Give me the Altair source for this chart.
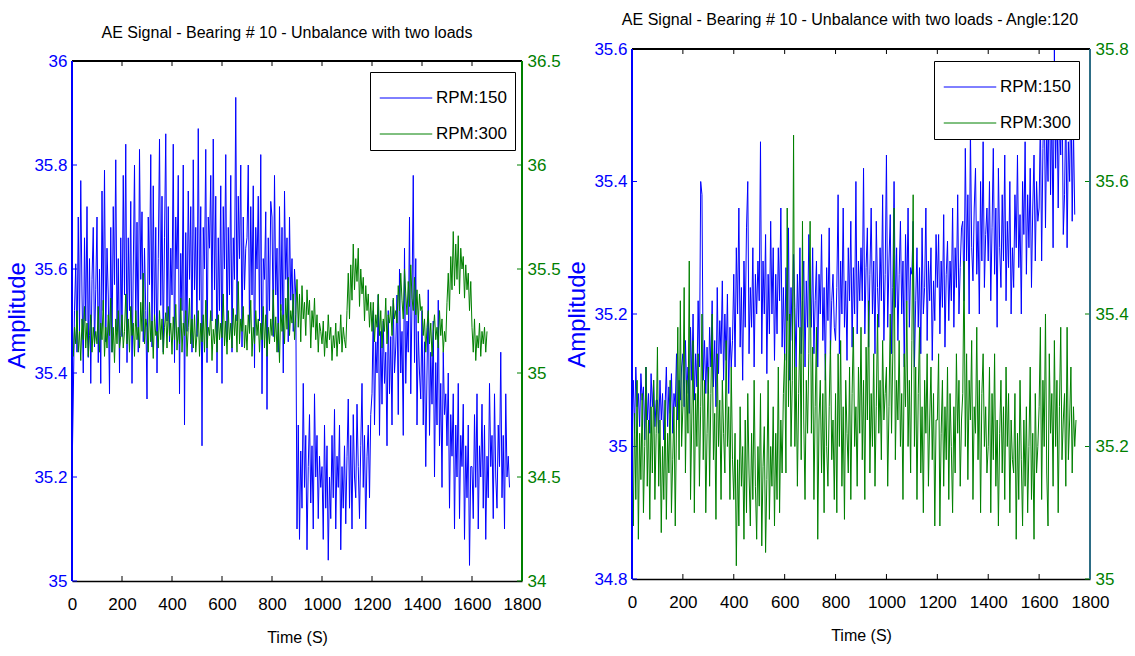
import altair as alt
import pandas as pd

BLUE = "#0000FF"
GREEN = "#008000"
FONT = "Liberation Sans, Arial"

SERIES = ["RPM:150", "RPM:300"]
X_TICKS = [0, 200, 400, 600, 800, 1000, 1200, 1400, 1600, 1800]
STEP = 5  # seconds between samples

# values are hundredths above 35.0 (one every 5 s)
LEFT_150 = [
    20, 35, 52, 61, 44, 70, 48, 77, 55, 40, 66, 50, 72, 43, 62, 38, 58, 68, 45, 56,
    70, 42, 60, 38, 75, 52, 79, 46, 64, 55, 36, 68, 44, 72, 57, 81, 48, 62, 40, 66,
    47, 78, 55, 84, 42, 66, 52, 73, 38, 60, 80, 49, 69, 44, 83, 58, 71, 46, 64, 52,
    35, 70, 57, 82, 45, 76, 50, 68, 40, 62, 85, 53, 74, 44, 66, 86, 50, 72, 46, 64,
    55, 84, 42, 70, 60, 78, 36, 63, 52, 80, 30, 67, 48, 75, 58, 72, 44, 81, 56, 68,
    47, 87, 54, 72, 26, 68, 60, 83, 42, 70, 64, 78, 50, 85, 56, 74, 40, 66, 52, 76,
    38, 72, 60, 82, 46, 68, 55, 78, 44, 66, 58, 93, 50, 74, 62, 80, 45, 70, 56, 64,
    66, 80, 48, 72, 55, 76, 41, 68, 60, 74, 50, 82, 36, 62, 58, 71, 33, 66, 52, 73,
    70, 47, 78, 55, 64, 44, 72, 52, 68, 40, 75, 58, 66, 46, 70, 54, 62, 48, 60, 55,
    10, 30, 8, 25, 14, 38, 18, 28, 6, 22, 32, 15, 26, 10, 36, 20, 28, 12, 24, 18,
    22, 8, 30, 14, 26, 4, 20, 12, 28, 16, 33, 10, 24, 18, 30, 6, 22, 14, 26, 11,
    24, 35, 14, 28, 10, 32, 20, 16, 34, 22, 12, 26, 38, 18, 28, 10, 24, 30, 16, 32,
    36, 52, 30, 46, 40, 55, 28, 48, 34, 50, 38, 44, 26, 52, 36, 47, 30, 54, 40, 45,
    55, 32, 60, 40, 48, 28, 64, 38, 50, 44, 70, 36, 54, 78, 42, 62, 30, 48, 40, 35,
    52, 30, 46, 22, 40, 56, 28, 44, 34, 50, 20, 42, 30, 54, 26, 38, 18, 44, 32, 36,
    26, 40, 14, 32, 24, 36, 10, 30, 20, 38, 12, 28, 22, 34, 8, 26, 16, 30, 3, 22,
    22, 12, 32, 18, 36, 10, 26, 20, 34, 14, 30, 8, 24, 16, 38, 22, 28, 12, 36, 20,
    14, 30, 22, 44, 16, 28, 10, 36, 20, 24, 18,
]
LEFT_300 = [
    28, 8, 22, 14, 30, 10, 20, 6, 26, 16, 32, 12, 24, 8, 18, 28, 10, 22, 14, 20,
    14, 32, 10, 24, 16, 35, 8, 22, 12, 28, 18, 36, 10, 22, 5, 26, 14, 30, 12, 18,
    28, 12, 20, 38, 14, 26, 10, 32, 18, 24, 8, 30, 16, 22, 12, 34, 20, 48, 14, 26,
    22, 10, 34, 15, 25, 7, 28, 18, 20, 12, 30, 16, 26, 9, 22, 29, 12, 32, 18, 24,
    9, 27, 16, 33, 11, 22, 14, 36, 10, 24, 18, 30, 8, 22, 36, 14, 26, 12, 28, 10,
    19, 30, 8, 24, 15, 28, 10, 35, 12, 22, 18, 30, 6, 21, 14, 26, 10, 28, 16, 24,
    17, 38, 13, 25, 9, 30, 16, 24, 12, 31, 18, 28, 10, 44, 14, 26, 20, 32, 12, 23,
    11, 28, 19, 35, 8, 22, 14, 30, 18, 26, 10, 24, 16, 32, 12, 28, 8, 22, 14, 26,
    18, 40, 15, 27, 10, 24, 5, 33, 20, 28, 14, 36, 21, 46, 18, 30, 24, 38, 16, 28,
    45, 22, 38, 15, 42, 26, 34, 18, 40, 28, 35, 12, 30, 22, 36, 16, 28, 10, 24, 20,
    14, 25, 8, 20, 12, 28, 16, 22, 6, 18, 12, 24, 8, 20, 14, 28, 10, 22, 16, 12,
    30, 48, 26, 52, 35, 62, 40, 55, 44, 60, 32, 50, 38, 46, 25, 42, 30, 38, 22, 34,
    20, 34, 15, 28, 22, 38, 18, 30, 12, 26, 20, 36, 14, 28, 24, 32, 18, 36, 26, 30,
    24, 42, 30, 48, 35, 26, 50, 38, 28, 44, 32, 52, 36, 30, 46, 28, 40, 24, 38, 30,
    32, 18, 26, 10, 22, 30, 14, 24, 8, 20, 28, 16, 22, 12, 30, 18, 26, 10, 20, 15,
    34, 48, 30, 56, 40, 68, 42, 62, 45, 66, 38, 60, 50, 56, 36, 52, 40, 48, 30, 44,
    22, 10, 26, 6, 18, 12, 24, 8, 20, 14, 22, 10, 20,
]
RIGHT_150 = [
    5, 10, 2, 12, 6, 8, 3, 11, 7, 9, 1, 12, 4, 8, 2, 11, 6, 10, 3, 7,
    7, 2, 10, 4, 8, 1, 6, 12, 3, 9, 5, 11, 2, 8, 6, 14, 4, 10, 7, 12,
    14, 6, 16, 8, 12, 5, 18, 10, 20, 7, 14, 9, 22, 12, 40, 38, 10, 16, 8, 15,
    8, 18, 12, 22, 9, 16, 6, 24, 11, 19, 14, 25, 10, 20, 13, 23, 8, 18, 12, 16,
    26, 12, 30, 20, 36, 15, 24, 10, 28, 18, 33, 40, 14, 24, 18, 30, 12, 26, 20, 28,
    22, 46, 14, 28, 20, 32, 11, 26, 17, 34, 20, 30, 13, 26, 17, 30, 22, 36, 15, 24,
    13, 27, 19, 33, 10, 24, 16, 29, 21, 12, 26, 18, 30, 14, 22, 28, 12, 25, 18, 32,
    25, 18, 30, 14, 22, 28, 12, 26, 20, 32, 16, 24, 10, 27, 19, 33, 14, 22, 26, 18,
    16, 24, 38, 14, 28, 20, 36, 18, 25, 13, 30, 22, 34, 15, 27, 20, 40, 17, 28, 22,
    30, 22, 42, 17, 27, 33, 15, 26, 36, 20, 28, 14, 34, 24, 18, 30, 22, 38, 16, 26,
    44, 18, 28, 35, 14, 24, 40, 21, 30, 16, 26, 34, 20, 28, 12, 32, 22, 36, 18, 27,
    26, 34, 12, 22, 30, 18, 27, 14, 33, 20, 24, 36, 16, 28, 22, 30, 13, 25, 19, 32,
    24, 32, 17, 28, 21, 35, 15, 26, 31, 19, 28, 22, 36, 18, 30, 24, 38, 20, 27, 33,
    34, 22, 45, 28, 38, 20, 48, 30, 25, 36, 42, 26, 34, 20, 40, 28, 46, 24, 32, 36,
    28, 40, 22, 33, 45, 26, 36, 18, 42, 30, 24, 38, 28, 44, 22, 34, 27, 40, 20, 30,
    24, 38, 30, 44, 27, 35, 20, 40, 32, 46, 26, 38, 30, 42, 24, 36, 44, 28, 40, 34,
    36, 50, 28, 45, 55, 33, 48, 40, 58, 38, 52, 30, 60, 42, 54, 36, 50, 44, 56, 32,
    38, 52, 30, 46, 40, 55, 34, 48, 35,
]
RIGHT_300 = [
    18, 8, 25, 12, 30, 6, 22, 15, 28, 10, 20, 32, 14, 24, 9, 26, 16, 30, 12, 22,
    35, 14, 24, 7, 20, 12, 27, 9, 22, 16, 30, 10, 18, 26, 8, 24, 38, 18, 42, 20,
    26, 44, 16, 30, 22, 48, 12, 24, 36, 10, 28, 20, 34, 14, 26, 40, 18, 30, 10, 22,
    32, 14, 28, 40, 18, 25, 9, 34, 20, 27, 12, 30, 22, 16, 36, 20, 26, 12, 32, 18,
    12, 22, 2, 18, 8, 26, 14, 20, 6, 24, 10, 28, 16, 8, 22, 12, 30, 14, 6, 20,
    11, 28, 5, 17, 23, 4, 15, 30, 9, 20, 14, 26, 8, 22, 12, 32, 10, 24, 16, 28,
    34, 16, 56, 26, 40, 20, 30, 67, 20, 32, 14, 28, 38, 18, 54, 24, 12, 30, 22, 34,
    54, 22, 35, 12, 26, 38, 6, 24, 30, 16, 28, 10, 34, 20, 14, 26, 36, 18, 24, 12,
    28, 10, 34, 20, 36, 14, 26, 9, 30, 22, 16, 32, 12, 28, 38, 20, 26, 14, 32, 22,
    38, 18, 30, 12, 35, 24, 42, 16, 28, 20, 34, 14, 26, 40, 22, 30, 18, 36, 24, 28,
    32, 14, 26, 40, 22, 34, 56, 18, 30, 24, 36, 20, 28, 12, 34, 26, 42, 20, 30, 16,
    36, 58, 20, 32, 12, 28, 38, 16, 26, 10, 30, 22, 34, 14, 24, 32, 18, 28, 8, 24,
    24, 34, 8, 22, 30, 14, 26, 18, 32, 12, 28, 20, 10, 26, 16, 34, 22, 30, 14, 24,
    28, 48, 20, 34, 15, 30, 24, 36, 12, 26, 22, 38, 18, 30, 10, 28, 34, 20, 26, 16,
    20, 32, 10, 28, 18, 34, 14, 24, 8, 22, 30, 16, 26, 12, 32, 20, 28, 10, 24, 18,
    16, 28, 6, 22, 12, 30, 18, 8, 24, 14, 26, 10, 20, 32, 12, 22, 6, 28, 16, 20,
    26, 38, 12, 30, 20, 40, 16, 8, 34, 22, 28, 14, 36, 20, 30, 10, 26, 38, 18, 24,
    28, 14, 38, 18, 24, 32, 16, 26, 20, 24,
]

L_Y150 = [35, 35.2, 35.4, 35.6, 35.8, 36]
L_Y300 = [34, 34.5, 35, 35.5, 36, 36.5]
R_Y150 = [34.8, 35, 35.2, 35.4, 35.6]
R_Y300 = [35, 35.2, 35.4, 35.6, 35.8]

TITLE_L = "AE Signal - Bearing # 10 - Unbalance with two loads"
TITLE_R = "AE Signal - Bearing # 10 - Unbalance with two loads - Angle:120"


def frame(vals, name):
    return pd.DataFrame({
        "t": [i * STEP for i in range(len(vals))],
        "v": [35 + h / 100 for h in vals],
        "series": name,
    })


def panel(v150, v300, y150, y300, W, H, gap, title, tdx, tdy, legx, legy, rcol):
    htot = H + gap
    # extend the top of each y domain so that the frame sits `gap` px below the cell top
    top150 = y150[-1] + (y150[-1] - y150[0]) * gap / H
    top300 = y300[-1] + (y300[-1] - y300[0]) * gap / H

    xenc = alt.X("t:Q", scale=alt.Scale(domain=[0, 1800], nice=False),
                 axis=alt.Axis(values=X_TICKS, format="d", title="Time (S)",
                               labelFont=FONT, labelFontSize=17, labelColor="black",
                               labelOverlap=False, labelFlush=False,
                               titleFont=FONT, titleFontSize=16, titleFontWeight="normal",
                               titleColor="black", domainColor="black", domainWidth=1.5,
                               ticks=False, labelPadding=15, titlePadding=17, grid=False))
    color = alt.Color("series:N", scale=alt.Scale(domain=SERIES, range=[BLUE, GREEN]),
                      legend=alt.Legend(title=None, orient="none", legendX=legx, legendY=legy,
                                        fillColor="white", strokeColor="black", padding=8,
                                        labelFont=FONT, labelFontSize=17, labelColor="black",
                                        symbolType="M-1.5,0H1.5", symbolSize=1225,
                                        symbolStrokeWidth=1, symbolOffset=10, labelOffset=12,
                                        rowPadding=10, labelLimit=200))
    yb = alt.Y("v:Q", scale=alt.Scale(domain=[y150[0], top150], nice=False, zero=False),
               axis=alt.Axis(values=y150, format="~g", orient="left", title="Amplitude",
                             labelFont=FONT, labelFontSize=17, labelColor=BLUE,
                             labelFlush=False,
                             titleFont=FONT, titleFontSize=24, titleFontWeight="normal",
                             titleColor=BLUE, domain=False, ticks=False,
                             labelPadding=5, titlePadding=4, grid=False))
    yg = alt.Y("v:Q", scale=alt.Scale(domain=[y300[0], top300], nice=False, zero=False),
               axis=alt.Axis(values=y300, format="~g", orient="right", title=None,
                             labelFont=FONT, labelFontSize=17, labelColor=GREEN,
                             labelFlush=False,
                             domain=False, ticks=False, labelPadding=5, grid=False))

    blue_line = alt.Chart(frame(v150, SERIES[0])).mark_line(strokeWidth=1).encode(
        x=xenc, y=yb, color=color)
    blue_ticks = alt.Chart(pd.DataFrame({"v": y150})).mark_rule(color=BLUE).encode(
        y=yb, x=alt.value(0), x2=alt.value(5))
    xt = pd.DataFrame({"t": X_TICKS})
    top_ticks = alt.Chart(xt).mark_rule(color="black").encode(
        x=xenc, y=alt.value(gap), y2=alt.value(gap + 5))
    bot_ticks = alt.Chart(xt).mark_rule(color="black").encode(
        x=xenc, y=alt.value(htot - 5), y2=alt.value(htot))
    top_line = alt.Chart(xt).mark_rule(color="black", strokeWidth=1.5).encode(
        x=alt.value(0), x2=alt.value(W), y=alt.value(gap))
    left_line = alt.Chart(xt).mark_rule(color=BLUE, strokeWidth=1).encode(
        x=alt.value(0), y=alt.value(gap), y2=alt.value(htot))
    right_line = alt.Chart(xt).mark_rule(color=rcol, strokeWidth=1.2).encode(
        x=alt.value(W), y=alt.value(gap), y2=alt.value(htot))
    green_line = alt.Chart(frame(v300, SERIES[1])).mark_line(strokeWidth=1).encode(
        x=xenc, y=yg, color=color)
    green_ticks = alt.Chart(pd.DataFrame({"v": y300})).mark_rule(color=GREEN).encode(
        y=yg, x=alt.value(W - 5), x2=alt.value(W))

    g_blue = alt.layer(blue_line, blue_ticks, top_ticks, bot_ticks)
    g_green = alt.layer(green_line, green_ticks, top_line, left_line, right_line)
    return alt.layer(g_blue, g_green).resolve_scale(y="independent").properties(
        width=W, height=htot,
        title=alt.TitleParams(text=title, font=FONT, fontSize=16, fontWeight="normal",
                              color="black", anchor="middle", offset=12, dx=tdx, dy=tdy))


left = panel(LEFT_150, LEFT_300, L_Y150, L_Y300, 450, 520, 12, TITLE_L, -10, 4, 298, 23, GREEN)
right = panel(RIGHT_150, RIGHT_300, R_Y150, R_Y300, 458, 530, 0, TITLE_R, -11, 0, 302, 12, "#2E6E86")

chart = alt.hconcat(left, right, spacing=4).resolve_scale(color="independent").properties(
    padding={"left": 5, "top": 12, "right": 2, "bottom": 2}
).configure_view(strokeWidth=0)

chart.save("out.html", embed_options={"renderer": "svg", "actions": False})
